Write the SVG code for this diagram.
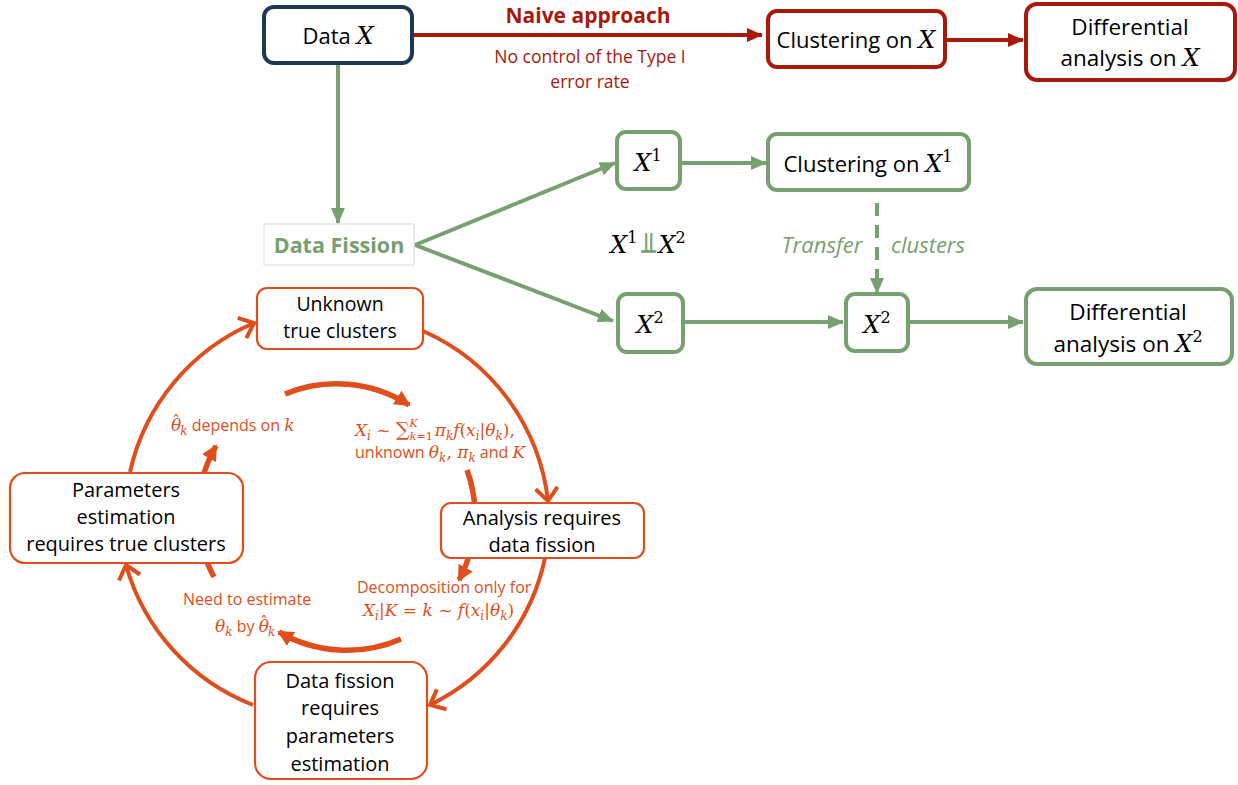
<svg xmlns="http://www.w3.org/2000/svg" width="1238" height="785" viewBox="0 0 1238 785">
<defs>
<style>
.t{font-family:"Open Sans","Liberation Sans",sans-serif;fill:#000;text-anchor:middle}
.m{font-family:"DejaVu Serif","Liberation Serif",serif;font-style:italic}
.n{font-family:"DejaVu Serif","Liberation Serif",serif;font-style:normal}
.gbox{fill:#fff;stroke:#77A070;stroke-width:4}
.rbox{fill:#fff;stroke:#A8190B;stroke-width:4}
.obox{fill:#fff;stroke:#E04E1B;stroke-width:2.2}
.ga{stroke:#77A070;stroke-width:4;fill:none}
.ra{stroke:#A8190B;stroke-width:4;fill:none}
.oa{stroke:#E04E1B;stroke-width:4;fill:none}
.oi{stroke:#E04E1B;stroke-width:5.5;fill:none}
.ol{font-family:"Open Sans","Liberation Sans",sans-serif;fill:#E04E1B;font-size:16px}
</style>
<marker id="mg" markerUnits="userSpaceOnUse" markerWidth="16" markerHeight="14" refX="15" refY="7" orient="auto"><path d="M0,0 L16,7 L0,14 z" fill="#77A070"/></marker>
<marker id="mr" markerUnits="userSpaceOnUse" markerWidth="16" markerHeight="14" refX="15" refY="7" orient="auto"><path d="M0,0 L16,7 L0,14 z" fill="#A8190B"/></marker>
<marker id="mo" markerUnits="userSpaceOnUse" markerWidth="18" markerHeight="26" refX="15" refY="13" orient="auto"><path d="M2,2 L15,13 L2,24" fill="none" stroke="#E04E1B" stroke-width="4"/></marker>
<marker id="mi" markerUnits="userSpaceOnUse" markerWidth="16" markerHeight="16" refX="14" refY="8" orient="auto"><path d="M0,0 L16,8 L0,16 z" fill="#E04E1B"/></marker>
</defs>
<rect width="1238" height="785" fill="#fff"/>

<g id="connectors">
<path class="ra" d="M412,35 L762,35" marker-end="url(#mr)"/>
<path class="ra" d="M945,40 L1023,40" marker-end="url(#mr)"/>
<path class="ga" d="M338,63 L338,223" marker-end="url(#mg)"/>
<path class="ga" d="M415,245 L615,163" marker-end="url(#mg)"/>
<path class="ga" d="M415,245 L613,321" marker-end="url(#mg)"/>
<path class="ga" d="M680,163 L766,163" marker-end="url(#mg)"/>
<path class="ga" d="M683,322 L843,322" marker-end="url(#mg)"/>
<path class="ga" d="M908,322 L1023,322" marker-end="url(#mg)"/>
<path class="ga" d="M877,203 L877,293" stroke-dasharray="13 9" marker-end="url(#mg)"/>
<path class="oa" d="M423,331 A212,212 0 0 1 548,501" marker-end="url(#mo)"/>
<path class="oa" d="M545,558 A212,212 0 0 1 430,705" marker-end="url(#mo)"/>
<path class="oa" d="M253,705 A212,212 0 0 1 126,565" marker-end="url(#mo)"/>
<path class="oa" d="M130,472 A212,212 0 0 1 254,323" marker-end="url(#mo)"/>
<path class="oi" d="M285,394 A135,135 0 0 1 409,405" marker-end="url(#mi)"/>
<path class="oi" d="M467,470 A135,135 0 0 1 459,580" marker-end="url(#mi)"/>
<path class="oi" d="M401,639 A135,135 0 0 1 279,632" marker-end="url(#mi)"/>
<path class="oi" d="M214,577 A135,135 0 0 1 216,446" marker-end="url(#mi)"/>
</g>

<g id="naive-label">
<text x="588" y="23" font-family="'Open Sans','Liberation Sans',sans-serif" font-weight="bold" font-size="21" fill="#A8190B" text-anchor="middle">Naive approach</text>
<text x="590" y="63" font-family="'Open Sans','Liberation Sans',sans-serif" font-size="17.5" fill="#A8190B" text-anchor="middle">No control of the Type I</text>
<text x="590" y="88" font-family="'Open Sans','Liberation Sans',sans-serif" font-size="17.5" fill="#A8190B" text-anchor="middle">error rate</text>
</g>

<g id="data-x">
<rect x="264" y="7" width="148" height="56" rx="10" fill="#fff" stroke="#1F3655" stroke-width="4"/>
<text class="t" x="338" y="44" font-size="22">Data <tspan class="m" font-size="24">X</tspan></text>
</g>

<g id="clustering-x">
<rect class="rbox" x="768" y="11" width="177" height="56" rx="9"/>
<text class="t" x="856" y="48" font-size="22">Clustering on <tspan class="m" font-size="24">X</tspan></text>
</g>

<g id="diff-x">
<rect class="rbox" x="1026" y="4" width="209" height="76" rx="11"/>
<text class="t" x="1130" y="35" font-size="22.5">Differential</text>
<text class="t" x="1130" y="66" font-size="22.5">analysis on <tspan class="m" font-size="24">X</tspan></text>
</g>

<g id="data-fission">
<rect x="264" y="224" width="150" height="41" fill="#fff" stroke="#D9D9D9" stroke-width="1"/>
<text x="339" y="253" font-family="'Open Sans','Liberation Sans',sans-serif" font-weight="bold" font-size="21.5" fill="#77A070" text-anchor="middle">Data Fission</text>
</g>

<g id="x1">
<rect class="gbox" x="617" y="132" width="63" height="57" rx="9"/>
<text class="t" x="648" y="171"><tspan class="m" font-size="24">X</tspan><tspan class="n" font-size="16" dy="-10">1</tspan></text>
</g>

<g id="clustering-x1">
<rect class="gbox" x="768" y="134" width="201" height="56" rx="9"/>
<text class="t" x="868" y="172" font-size="22">Clustering on <tspan class="m" font-size="24">X</tspan><tspan class="n" font-size="16" dy="-10">1</tspan></text>
</g>

<g id="indep">
<text class="t" x="648" y="253"><tspan class="m" font-size="24">X</tspan><tspan class="n" font-size="16" dy="-10">1</tspan><tspan dy="10" dx="3" font-size="28" font-weight="bold" fill="#77A070" font-family="'DejaVu Sans',sans-serif">⫫</tspan><tspan class="m" font-size="24" dx="2">X</tspan><tspan class="n" font-size="16" dy="-10">2</tspan></text>
</g>

<g id="transfer-label">
<text x="822" y="253" font-family="'Open Sans','Liberation Sans',sans-serif" font-style="italic" font-size="22" fill="#77A070" text-anchor="middle">Transfer</text>
<text x="928" y="253" font-family="'Open Sans','Liberation Sans',sans-serif" font-style="italic" font-size="22" fill="#77A070" text-anchor="middle">clusters</text>
</g>

<g id="x2a">
<rect class="gbox" x="618" y="294" width="65" height="58" rx="9"/>
<text class="t" x="650" y="333"><tspan class="m" font-size="24">X</tspan><tspan class="n" font-size="16" dy="-10">2</tspan></text>
</g>

<g id="x2b">
<rect class="gbox" x="846" y="294" width="62" height="57" rx="9"/>
<text class="t" x="877" y="333"><tspan class="m" font-size="24">X</tspan><tspan class="n" font-size="16" dy="-10">2</tspan></text>
</g>

<g id="diff-x2">
<rect class="gbox" x="1026" y="289" width="206" height="75" rx="11"/>
<text class="t" x="1128" y="320" font-size="22.5">Differential</text>
<text class="t" x="1128" y="352" font-size="22.5">analysis on <tspan class="m" font-size="24">X</tspan><tspan class="n" font-size="16" dy="-10">2</tspan></text>
</g>

<g id="unknown">
<rect class="obox" x="257" y="288" width="166" height="61" rx="10"/>
<text class="t" x="340" y="311" font-size="19.5">Unknown</text>
<text class="t" x="340" y="338" font-size="19.5">true clusters</text>
</g>

<g id="analysis">
<rect class="obox" x="441" y="503" width="203" height="55" rx="10"/>
<text class="t" x="542" y="525" font-size="20">Analysis requires</text>
<text class="t" x="542" y="552" font-size="20">data fission</text>
</g>

<g id="datafission-req">
<rect class="obox" x="255" y="662" width="172" height="117" rx="16"/>
<text class="t" x="340" y="688" font-size="20">Data fission</text>
<text class="t" x="340" y="715" font-size="20">requires</text>
<text class="t" x="340" y="743" font-size="20">parameters</text>
<text class="t" x="340" y="771" font-size="20">estimation</text>
</g>

<g id="params">
<rect class="obox" x="10" y="473" width="233" height="90" rx="15"/>
<text class="t" x="126" y="497" font-size="20">Parameters</text>
<text class="t" x="126" y="524" font-size="20">estimation</text>
<text class="t" x="126" y="551" font-size="20">requires true clusters</text>
</g>

<g id="orange-labels">
<text class="ol" x="171" y="431"><tspan class="m" font-size="17">θ</tspan><tspan class="n" font-size="16" dx="-9" dy="-4">ˆ</tspan><tspan class="m" font-size="12" dx="0" dy="8">k</tspan><tspan dy="-4"> depends on </tspan><tspan class="m" font-size="17">k</tspan></text>
<text class="ol" x="355" y="436"><tspan class="m" font-size="17">X</tspan><tspan class="m" font-size="12" dy="4">i</tspan><tspan class="n" font-size="17" dy="-4"> ~ </tspan><tspan class="n" font-size="19">∑</tspan><tspan class="m" font-size="11" dy="-9">K</tspan><tspan class="m" font-size="11" dx="-8" dy="13">k</tspan><tspan class="n" font-size="11">=1</tspan><tspan class="m" font-size="17" dy="-4" dx="2">π</tspan><tspan class="m" font-size="12" dy="4">k</tspan><tspan class="m" font-size="17" dy="-4">f</tspan><tspan class="n" font-size="17">(</tspan><tspan class="m" font-size="17">x</tspan><tspan class="m" font-size="12" dy="4">i</tspan><tspan class="n" font-size="17" dy="-4">|</tspan><tspan class="m" font-size="17">θ</tspan><tspan class="m" font-size="12" dy="4">k</tspan><tspan class="n" font-size="17" dy="-4">),</tspan></text>
<text class="ol" x="355" y="458">unknown <tspan class="m" font-size="17">θ</tspan><tspan class="m" font-size="12" dy="4">k</tspan><tspan class="n" font-size="17" dy="-4">, </tspan><tspan class="m" font-size="17">π</tspan><tspan class="m" font-size="12" dy="4">k</tspan><tspan dy="-4"> and </tspan><tspan class="m" font-size="17">K</tspan></text>
<text class="ol" x="357" y="593">Decomposition only for</text>
<text class="ol" x="363" y="616"><tspan class="m" font-size="17">X</tspan><tspan class="m" font-size="12" dy="4">i</tspan><tspan class="n" font-size="17" dy="-4">|</tspan><tspan class="m" font-size="17">K</tspan><tspan class="n" font-size="17"> = </tspan><tspan class="m" font-size="17">k</tspan><tspan class="n" font-size="17"> ~ </tspan><tspan class="m" font-size="17">f</tspan><tspan class="n" font-size="17">(</tspan><tspan class="m" font-size="17">x</tspan><tspan class="m" font-size="12" dy="4">i</tspan><tspan class="n" font-size="17" dy="-4">|</tspan><tspan class="m" font-size="17">θ</tspan><tspan class="m" font-size="12" dy="4">k</tspan><tspan class="n" font-size="17" dy="-4">)</tspan></text>
<text class="ol" x="183" y="605">Need to estimate</text>
<text class="ol" x="215" y="632"><tspan class="m" font-size="17">θ</tspan><tspan class="m" font-size="12" dy="4">k</tspan><tspan dy="-4"> by </tspan><tspan class="m" font-size="17">θ</tspan><tspan class="n" font-size="16" dx="-9" dy="-4">ˆ</tspan><tspan class="m" font-size="12" dy="8">k</tspan></text>
</g>
</svg>
